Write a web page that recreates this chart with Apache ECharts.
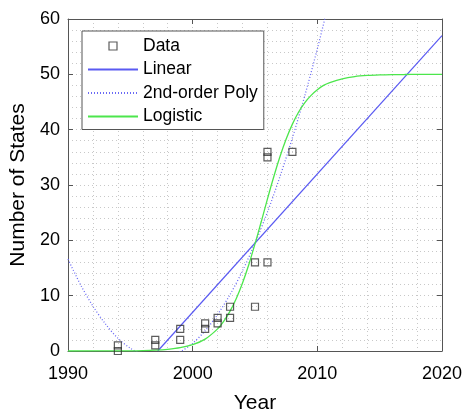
<!DOCTYPE html>
<html><head><meta charset="utf-8">
<script src="https://cdn.jsdelivr.net/npm/echarts@6/dist/echarts.min.js"></script>
<style>html,body{margin:0;padding:0;background:#fff}#c{width:466px;height:413px}</style>
</head><body><div id="c"></div>
<script>
// Observed data
const dataYears  = [1994,1994,1997,1997,1999,1999,2001,2001,2002,2002,2003,2003,2005,2005,2006,2006,2006,2008];
const dataStates = [0,1,1,2,2,4,4,5,5,6,6,8,8,16,16,35,36,36];
// Linear fit (read endpoints)
const linYears = [1997.2, 2020];
const linVals  = [0, 57];
// 2nd-order polynomial fit
const polyYears = [1990,1991,1992,1993,1994,1995,1996,1997,1998,1999,2000,2001,2002,2003,2004,2005,2006,2007,2008,2009,2010,2011];
const polyVals  = [16.6,12.0,8.1,4.9,2.3,0.5,-0.7,-1.2,-1.0,-0.15,1.4,3.65,6.6,10.2,14.5,19.5,25.1,31.5,38.5,46.2,54.6,63.7];
// Logistic fit
const logYears = [1990,1995,1996,1997,1998,1999,2000,2001,2002,2002.5,2003,2003.5,2004,2004.5,2005,2005.5,2006,2006.5,2007,2007.5,2008,2008.5,2009,2009.5,2010,2010.5,2011,2012,2013,2014,2015,2016,2017,2018,2020];
const logVals  = [0,0.04,0.08,0.16,0.31,0.59,1.14,2.15,4.0,5.4,7.2,9.5,12.3,15.6,19.35,23.35,27.5,31.45,35.1,38.3,41.0,43.2,44.9,46.2,47.2,48.0,48.5,49.2,49.6,49.8,49.9,49.95,49.97,49.99,50];
// Axis ticks
const xTicks = {min:1990, max:2020, step:10};
const yTicks = {min:0, max:60, step:10};

const FONT = 'Liberation Sans, Arial, sans-serif';
const zip = (a,b) => a.map((v,i)=>[v,b[i]]);
const gridLine = {show:true, lineStyle:{color:'#c8c8c8', width:1, type:[1,3]}};
const axisCol = '#555';
const noMarker = {color:'rgba(0,0,0,0)', borderColor:'rgba(0,0,0,0)', borderWidth:0};

const chart = echarts.init(document.getElementById('c'), null, {renderer:'canvas'});
chart.setOption({
  animation:false,
  backgroundColor:'#fff',
  grid:{left:68, right:24, top:19, bottom:62, containLabel:false, outerBoundsMode:'none'},
  xAxis:[{
    type:'value', min:xTicks.min, max:xTicks.max, interval:xTicks.step, position:'bottom',
    axisLine:{show:true, onZero:false, lineStyle:{color:axisCol, width:1}},
    axisTick:{show:true, inside:true, length:5, lineStyle:{color:axisCol}},
    axisLabel:{fontSize:18, color:'#000', margin:14, fontFamily:FONT, formatter:v=>String(v)},
    splitLine:gridLine,
    minorTick:{show:false, splitNumber:5},
    minorSplitLine:gridLine,
    name:'Year', nameLocation:'middle', nameGap:42,
    nameTextStyle:{fontSize:21, color:'#000', fontFamily:FONT}
  },{
    type:'value', min:xTicks.min, max:xTicks.max, interval:xTicks.step, position:'top',
    axisLine:{show:true, onZero:false, lineStyle:{color:axisCol, width:1}},
    axisTick:{show:true, inside:true, length:5, lineStyle:{color:axisCol}},
    axisLabel:{show:false}, splitLine:{show:false}
  }],
  yAxis:[{
    type:'value', min:yTicks.min, max:yTicks.max, interval:yTicks.step, position:'left',
    axisLine:{show:true, onZero:false, lineStyle:{color:axisCol, width:1}},
    axisTick:{show:true, inside:true, length:5, lineStyle:{color:axisCol}},
    axisLabel:{fontSize:18, color:'#000', margin:8, fontFamily:FONT, formatter:v=>String(v)},
    splitLine:gridLine,
    minorTick:{show:false, splitNumber:5},
    minorSplitLine:gridLine,
    name:'Number of States', nameLocation:'middle', nameGap:35,
    nameTextStyle:{fontSize:21, color:'#000', fontFamily:FONT}
  },{
    type:'value', min:yTicks.min, max:yTicks.max, interval:yTicks.step, position:'right',
    axisLine:{show:true, onZero:false, lineStyle:{color:axisCol, width:1}},
    axisTick:{show:true, inside:true, length:5, lineStyle:{color:axisCol}},
    axisLabel:{show:false}, splitLine:{show:false}
  }],
  legend:{
    orient:'vertical', left:82, top:31, itemWidth:50, itemHeight:8, itemGap:5.5,
    padding:[6,6,4,5], backgroundColor:'#fff', borderColor:'#555', borderWidth:1,
    textStyle:{fontSize:17.5, color:'#000', fontFamily:FONT},
    data:[
      {name:'Data', icon:'path://M0,0L10,0L10,10L0,10Z', itemStyle:{color:'rgba(0,0,0,0)', borderColor:'#333', borderWidth:1.2}},
      {name:'Linear', itemStyle:noMarker},
      {name:'2nd-order Poly', itemStyle:noMarker},
      {name:'Logistic', itemStyle:noMarker}
    ]
  },
  series:[
    {name:'Data', type:'scatter', xAxisIndex:0, yAxisIndex:0, symbol:'rect', symbolSize:7,
     itemStyle:{color:'rgba(0,0,0,0)', borderColor:'#333', borderWidth:1.2}, z:5,
     data:zip(dataYears, dataStates)},
    {name:'Linear', type:'line', xAxisIndex:0, yAxisIndex:0, symbol:'none', showSymbol:false, clip:true,
     lineStyle:{color:'#5a5af2', width:1.2}, itemStyle:{color:'#5a5af2'},
     data:zip(linYears, linVals)},
    {name:'2nd-order Poly', type:'line', xAxisIndex:0, yAxisIndex:0, symbol:'none', showSymbol:false, clip:true, smooth:0.3,
     lineStyle:{color:'#6a6af5', width:1.3, type:[1,2]}, itemStyle:{color:'#6a6af5'},
     data:zip(polyYears, polyVals)},
    {name:'Logistic', type:'line', xAxisIndex:0, yAxisIndex:0, symbol:'none', showSymbol:false, clip:true, smooth:0.3,
     lineStyle:{color:'#4ce64c', width:1.3}, itemStyle:{color:'#4ce64c'},
     data:zip(logYears, logVals)}
  ]
});
</script></body></html>
